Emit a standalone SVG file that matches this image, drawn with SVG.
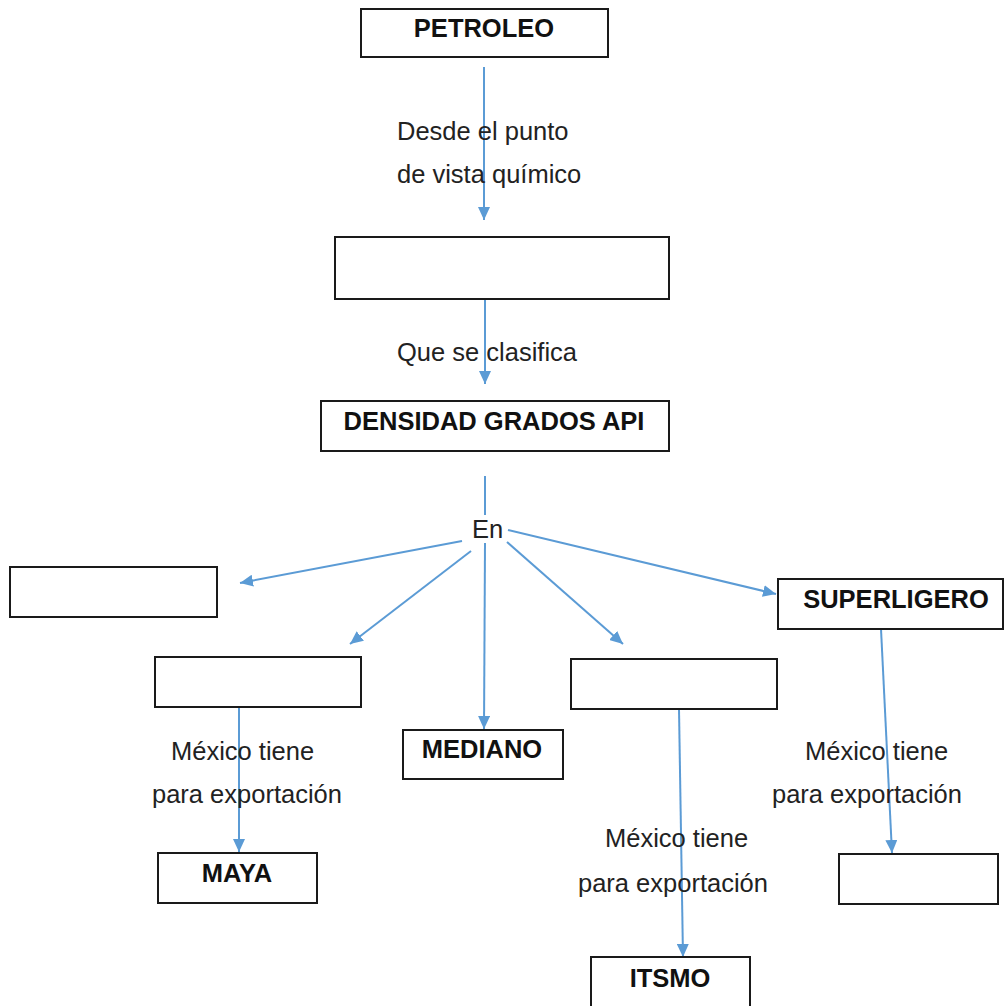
<svg xmlns="http://www.w3.org/2000/svg" width="1005" height="1006" viewBox="0 0 1005 1006">
  <defs>
    <marker id="arrow" markerUnits="userSpaceOnUse" markerWidth="13" markerHeight="12" refX="13" refY="6" orient="auto">
      <path d="M0,0 L13,6 L0,12 z" fill="#5B9BD5"/>
    </marker>
    <style>
      .box { fill: #ffffff; stroke: #1a1a1a; stroke-width: 2; }
      .title { font-family: "Liberation Sans", Arial, sans-serif; font-weight: bold; font-size: 25.5px; fill: #111111; text-anchor: middle; }
      .lbl { font-family: "Liberation Sans", Arial, sans-serif; font-size: 25.5px; fill: #222222; }
      .conn { stroke: #5B9BD5; stroke-width: 2; fill: none; }
      .conn.arr { marker-end: url(#arrow); }
    </style>
  </defs>
  <rect width="1005" height="1006" fill="#ffffff"/>

  <!-- connectors -->
  <g id="connectors">
    <line class="conn arr" x1="484" y1="67" x2="484" y2="220"/>
    <line class="conn arr" x1="485" y1="299" x2="485" y2="384"/>
    <line class="conn" x1="485" y1="476" x2="485" y2="515"/>
    <line class="conn arr" x1="485" y1="543" x2="484" y2="729"/>
    <line class="conn arr" x1="462" y1="541" x2="240" y2="583"/>
    <line class="conn arr" x1="471" y1="551" x2="350" y2="644"/>
    <line class="conn arr" x1="508" y1="530" x2="776" y2="594"/>
    <line class="conn arr" x1="507" y1="542" x2="623" y2="644"/>
    <line class="conn arr" x1="239" y1="707" x2="239" y2="852"/>
    <line class="conn arr" x1="679" y1="709" x2="683" y2="957"/>
    <line class="conn arr" x1="881" y1="629" x2="892" y2="853"/>
  </g>

  <!-- connector labels -->
  <g id="labels">
    <text class="lbl" x="397" y="140">Desde el punto</text>
    <text class="lbl" x="397" y="183">de vista químico</text>
    <text class="lbl" x="397" y="361">Que se clasifica</text>
    <text class="lbl" x="472" y="538">En</text>
    <text class="lbl" x="171" y="760">México tiene</text>
    <text class="lbl" x="152" y="803">para exportación</text>
    <text class="lbl" x="605" y="847">México tiene</text>
    <text class="lbl" x="578" y="892">para exportación</text>
    <text class="lbl" x="805" y="760">México tiene</text>
    <text class="lbl" x="772" y="803">para exportación</text>
  </g>

  <!-- nodes -->
  <g id="petroleo">
    <rect class="box" x="361" y="9" width="247" height="48"/>
    <text class="title" x="484" y="37">PETROLEO</text>
  </g>
  <g id="quimico">
    <rect class="box" x="335" y="237" width="334" height="62"/>
  </g>
  <g id="densidad">
    <rect class="box" x="321" y="401" width="348" height="50"/>
    <text class="title" x="494" y="430">DENSIDAD GRADOS API</text>
  </g>
  <g id="tipo-izq-1">
    <rect class="box" x="10" y="567" width="207" height="50"/>
  </g>
  <g id="tipo-izq-2">
    <rect class="box" x="155" y="657" width="206" height="50"/>
  </g>
  <g id="mediano">
    <rect class="box" x="403" y="730" width="160" height="49"/>
    <text class="title" x="482" y="758">MEDIANO</text>
  </g>
  <g id="tipo-der">
    <rect class="box" x="571" y="659" width="206" height="50"/>
  </g>
  <g id="superligero">
    <rect class="box" x="778" y="579" width="225" height="50"/>
    <text class="title" x="896" y="608">SUPERLIGERO</text>
  </g>
  <g id="maya">
    <rect class="box" x="158" y="853" width="159" height="50"/>
    <text class="title" x="237" y="882">MAYA</text>
  </g>
  <g id="itsmo">
    <rect class="box" x="591" y="957" width="159" height="60"/>
    <text class="title" x="670" y="987">ITSMO</text>
  </g>
  <g id="superligero-export">
    <rect class="box" x="839" y="854" width="159" height="50"/>
  </g>
</svg>
